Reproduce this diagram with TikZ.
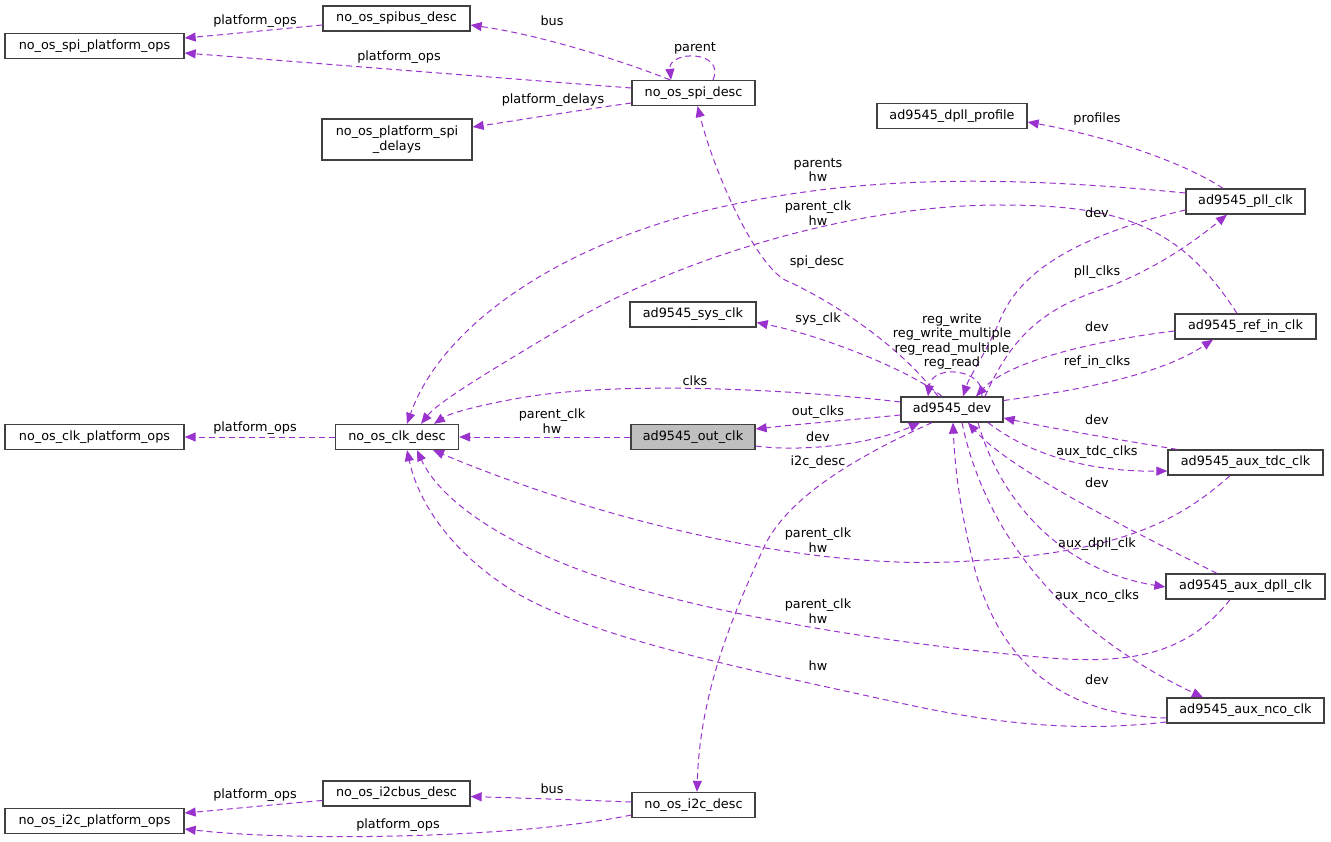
\documentclass[tikz,border=0pt]{standalone}
\usepackage{fontspec}
\setmainfont{DejaVu Sans}
\usetikzlibrary{arrows.meta}
\definecolor{edgec}{HTML}{9A32CD}
\definecolor{boxc}{HTML}{404040}
\definecolor{hilite}{HTML}{BFBFBF}
\tikzset{
  cls/.style={draw=boxc, line width=1.3pt, minimum height=25pt, inner sep=0pt, fill=white,
    align=center, font=\fontsize{12.8}{14.8}\selectfont},
  lbl/.style={inner sep=0pt, align=center, font=\fontsize{12.8}{14.3}\selectfont},
  rel/.style={draw=edgec, line width=1pt, dash pattern=on 6pt off 4pt,
    -{Triangle[length=11pt,width=9pt,fill=edgec]}},
}
\begin{document}
\begin{tikzpicture}[x=1pt,y=-1pt]
\useasboundingbox (0,0) rectangle (1331,842);
% classes
\node[cls, minimum width=179pt] (spiops) at (94.5,46) {no\_os\_spi\_platform\_ops};
\node[cls, minimum width=147pt] (spibus) at (396.5,18.5) {no\_os\_spibus\_desc};
\node[cls, minimum width=150pt, minimum height=41pt] (spidelays) at (397,139.5) {no\_os\_platform\_spi\\\_delays};
\node[cls, minimum width=123pt] (spidesc) at (693.5,93) {no\_os\_spi\_desc};
\node[cls, minimum width=150pt] (dpllprof) at (952,116) {ad9545\_dpll\_profile};
\node[cls, minimum width=119pt] (pllclk) at (1245.5,201.5) {ad9545\_pll\_clk};
\node[cls, minimum width=141pt] (refin) at (1245.5,326.5) {ad9545\_ref\_in\_clk};
\node[cls, minimum width=126pt] (sysclk) at (693,314.5) {ad9545\_sys\_clk};
\node[cls, minimum width=102pt] (dev) at (952,409.5) {ad9545\_dev};
\node[cls, minimum width=124pt, fill=hilite] (outclk) at (693,437) {ad9545\_out\_clk};
\node[cls, minimum width=179pt] (clkops) at (94.5,437) {no\_os\_clk\_platform\_ops};
\node[cls, minimum width=123pt] (clkdesc) at (397,437) {no\_os\_clk\_desc};
\node[cls, minimum width=155pt] (auxtdc) at (1245.5,462.5) {ad9545\_aux\_tdc\_clk};
\node[cls, minimum width=159pt] (auxdpll) at (1245.5,586.5) {ad9545\_aux\_dpll\_clk};
\node[cls, minimum width=157pt] (auxnco) at (1245.5,710.5) {ad9545\_aux\_nco\_clk};
\node[cls, minimum width=147pt] (i2cbus) at (396.5,793.5) {no\_os\_i2cbus\_desc};
\node[cls, minimum width=179pt] (i2cops) at (94.5,821) {no\_os\_i2c\_platform\_ops};
\node[cls, minimum width=123pt] (i2cdesc) at (693.5,805) {no\_os\_i2c\_desc};
% edges
\draw[rel] ([shift={(0,6.5)}]spibus.west) .. controls (280,29) and (230,34) .. ([shift={(0,-8)}]spiops.east);
\draw[rel] ([shift={(0,-5)}]spidesc.west) .. controls (500,78) and (300,62) .. ([shift={(0,7)}]spiops.east);
\draw[rel] ([shift={(-23.5,0)}]spidesc.north) .. controls (620,60) and (540,35) .. ([shift={(0,6.5)}]spibus.east);
\draw[rel] ([shift={(19.5,0)}]spidesc.north) .. controls (726,50) and (668,50) .. ([shift={(-22.5,0)}]spidesc.north);
\draw[rel] ([shift={(0,10)}]spidesc.west) .. controls (580,110) and (520,120) .. ([shift={(0,-12.5)}]spidelays.east);
\draw[rel] ([shift={(-14,0)}]dev.north) .. controls (900,345) and (830,300) .. (785,280) .. controls (755,263) and (715,175) .. ([shift={(4,0)}]spidesc.south);
\draw[rel] ([shift={(-22.5,0)}]pllclk.north) .. controls (1180,160) and (1100,135) .. ([shift={(0,6)}]dpllprof.east);
\draw[rel] ([shift={(0,-8.5)}]pllclk.west) .. controls (1000,175) and (850,175) .. (700,212) .. controls (550,250) and (440,330) .. ([shift={(10,0)}]clkdesc.north);
\draw[rel] ([shift={(-8.5,0)}]refin.north) .. controls (1180,225) and (1120,205) .. (1000,205) .. controls (850,205) and (680,260) .. (580,317) .. controls (500,365) and (440,400) .. ([shift={(24,0)}]clkdesc.north);
\draw[rel] ([shift={(0,8.5)}]pllclk.west) .. controls (1080,235) and (1020,270) .. (1000,320) .. controls (985,355) and (970,375) .. ([shift={(11,0)}]dev.north);
\draw[rel] ([shift={(33,0)}]dev.north) .. controls (1010,340) and (1040,310) .. (1100,290) .. controls (1150,272) and (1190,245) .. ([shift={(-18.5,0)}]pllclk.south);
\draw[rel] ([shift={(0,4.5)}]refin.west) .. controls (1100,340) and (1010,360) .. ([shift={(24,0)}]dev.north);
\draw[rel] ([shift={(0,-9)}]dev.east) .. controls (1080,390) and (1160,375) .. ([shift={(-32.5,0)}]refin.south);
\draw[rel] ([shift={(-10,0)}]dev.north) .. controls (910,370) and (820,335) .. ([shift={(0,8)}]sysclk.east);
\draw[rel] ([shift={(30,0)}]dev.north) .. controls (985,368) and (932,364) .. ([shift={(-24,0)}]dev.north);
\draw[rel] ([shift={(0,-7.5)}]dev.west) .. controls (800,390) and (620,380) .. (520,398) .. controls (480,405) and (450,413) .. ([shift={(37,0)}]clkdesc.north);
\draw[rel] ([shift={(0,5.5)}]dev.west) .. controls (850,420) and (800,424) .. ([shift={(0,-8)}]outclk.east);
\draw[rel] ([shift={(0,9)}]outclk.east) .. controls (800,452) and (870,445) .. ([shift={(-32,0)}]dev.south);
\draw[rel] (outclk.west) -- (clkdesc.east);
\draw[rel] (clkdesc.west) -- (clkops.east);
\draw[rel] ([shift={(-20,0)}]dev.south) .. controls (860,455) and (790,495) .. (765,545) .. controls (735,610) and (700,690) .. ([shift={(3.5,0)}]i2cdesc.north);
\draw[rel] ([shift={(-68.5,0)}]auxtdc.north) .. controls (1120,440) and (1050,428) .. ([shift={(0,8.5)}]dev.east);
\draw[rel] ([shift={(36,0)}]dev.south) .. controls (1030,455) and (1090,472) .. ([shift={(0,8.5)}]auxtdc.west);
\draw[rel] ([shift={(-15.5,0)}]auxtdc.south) .. controls (1180,520) and (1120,555) .. (950,562) .. controls (800,568) and (600,520) .. ([shift={(36,0)}]clkdesc.south);
\draw[rel] ([shift={(-28.5,0)}]auxdpll.north) .. controls (1130,530) and (1010,470) .. ([shift={(16,0)}]dev.south);
\draw[rel] ([shift={(26,0)}]dev.south) .. controls (1000,500) and (1060,570) .. ([shift={(0,0.5)}]auxdpll.west);
\draw[rel] ([shift={(-15.5,0)}]auxdpll.south) .. controls (1190,650) and (1140,665) .. (1050,658) .. controls (900,645) and (700,615) .. (580,570) .. controls (500,540) and (440,500) .. ([shift={(20,0)}]clkdesc.south);
\draw[rel] ([shift={(10,0)}]dev.south) .. controls (980,510) and (1040,620) .. ([shift={(-42.5,0)}]auxnco.north);
\draw[rel] ([shift={(0,7.5)}]auxnco.west) .. controls (1060,715) and (1000,660) .. (975,570) .. controls (960,510) and (955,470) .. ([shift={(1,0)}]dev.south);
\draw[rel] ([shift={(0,11.5)}]auxnco.west) .. controls (1080,732) and (1000,725) .. (900,703) .. controls (750,670) and (600,640) .. (520,595) .. controls (460,560) and (420,510) .. ([shift={(10,0)}]clkdesc.south);
\draw[rel] ([shift={(0,-3)}]i2cdesc.west) .. controls (580,800) and (520,798) .. ([shift={(0,3)}]i2cbus.east);
\draw[rel] ([shift={(0,10)}]i2cdesc.west) .. controls (520,838) and (300,842) .. ([shift={(0,8)}]i2cops.east);
\draw[rel] ([shift={(0,7)}]i2cbus.west) .. controls (280,804) and (230,809) .. ([shift={(0,-8)}]i2cops.east);
% labels
\node[lbl] (l1) at (255,21) {platform\_ops};
\node[lbl] (l2) at (399,57) {platform\_ops};
\node[lbl] (l3) at (552,21) {bus};
\node[lbl] (l4) at (695,48) {parent};
\node[lbl] (l5) at (553,100) {platform\_delays};
\node[lbl] (l6) at (1097,119) {profiles};
\node[lbl] (l7) at (818,170) {parents\\hw};
\node[lbl] (l8) at (818,213) {parent\_clk\\hw};
\node[lbl] (l9) at (1097,213) {dev};
\node[lbl] (l10) at (817,262) {spi\_desc};
\node[lbl] (l11) at (1097,272) {pll\_clks};
\node[lbl] (l12) at (818,319) {sys\_clk};
\node[lbl] (l13) at (952,341.5) {reg\_write\\reg\_write\_multiple\\reg\_read\_multiple\\reg\_read};
\node[lbl] (l14) at (1097,327) {dev};
\node[lbl] (l15) at (1097,362) {ref\_in\_clks};
\node[lbl] (l16) at (695,381) {clks};
\node[lbl] (l17) at (818,412) {out\_clks};
\node[lbl] (l18) at (552,421) {parent\_clk\\hw};
\node[lbl] (l19) at (255,428) {platform\_ops};
\node[lbl] (l20) at (818,437) {dev};
\node[lbl] (l21) at (1097,420) {dev};
\node[lbl] (l22) at (1097,452) {aux\_tdc\_clks};
\node[lbl] (l23) at (818,462) {i2c\_desc};
\node[lbl] (l24) at (1097,483) {dev};
\node[lbl] (l25) at (818,540) {parent\_clk\\hw};
\node[lbl] (l26) at (1097,544) {aux\_dpll\_clk};
\node[lbl] (l27) at (1097,596) {aux\_nco\_clks};
\node[lbl] (l28) at (818,611) {parent\_clk\\hw};
\node[lbl] (l29) at (818,666) {hw};
\node[lbl] (l30) at (1097,680) {dev};
\node[lbl] (l31) at (552,789) {bus};
\node[lbl] (l32) at (255,795) {platform\_ops};
\node[lbl] (l33) at (398,825) {platform\_ops};
\end{tikzpicture}
\end{document}
